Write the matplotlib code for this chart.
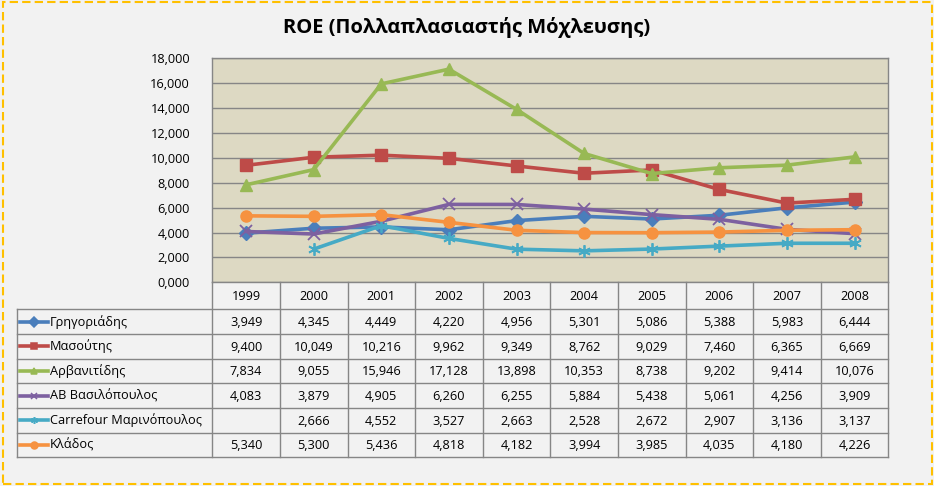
import matplotlib.pyplot as plt
import numpy as np
from matplotlib.patches import Rectangle

plt.rcParams['font.family'] = ['Open Sans', 'DejaVu Sans']

years = ['1999', '2000', '2001', '2002', '2003', '2004', '2005', '2006', '2007', '2008']
names = ['Γρηγοριάδης', 'Μασούτης', 'Αρβανιτίδης', 'ΑΒ Βασιλόπουλος',
         'Carrefour Μαρινόπουλος', 'Κλάδος']
grigoriadis = [3.949, 4.345, 4.449, 4.220, 4.956, 5.301, 5.086, 5.388, 5.983, 6.444]
masoutis = [9.400, 10.049, 10.216, 9.962, 9.349, 8.762, 9.029, 7.460, 6.365, 6.669]
arvanitidis = [7.834, 9.055, 15.946, 17.128, 13.898, 10.353, 8.738, 9.202, 9.414, 10.076]
ab_vasilopoulos = [4.083, 3.879, 4.905, 6.260, 6.255, 5.884, 5.438, 5.061, 4.256, 3.909]
carrefour = [np.nan, 2.666, 4.552, 3.527, 2.663, 2.528, 2.672, 2.907, 3.136, 3.137]
klados = [5.340, 5.300, 5.436, 4.818, 4.182, 3.994, 3.985, 4.035, 4.180, 4.226]
all_series = [grigoriadis, masoutis, arvanitidis, ab_vasilopoulos, carrefour, klados]

colours = ['#4A7EBB', '#BE4B48', '#98B954', '#7D60A0', '#46AAC5', '#F69240']
markers = ['D', 's', '^', 'x', (6, 2, 0), 'o']
msizes = [7, 8, 8, 8, 9, 8]
fs = 9.2

W, H = 934, 486
fig = plt.figure(figsize=(W / 100, H / 100), dpi=100, facecolor='#F2F2F2')


def fx(px):
    return px / W


def fy(py):
    return 1 - py / H


left, right, top, bottom = 212.3, 888.3, 58.3, 282.3
ax = fig.add_axes([fx(left), fy(bottom), fx(right - left), (bottom - top) / H])
ax.set_facecolor('#DDD9C3')
x = np.arange(len(years))
for vals, col, mk, ms in zip(all_series, colours, markers, msizes):
    mew = 1.3 if mk in ('x',) or isinstance(mk, tuple) else 1
    ax.plot(x, vals, color=col, lw=2.6, marker=mk, markersize=ms,
            markeredgewidth=mew, markeredgecolor=col, solid_capstyle='round')
ax.set_xlim(-0.5, 9.5)
ax.set_ylim(0, 18)
ax.set_yticks(np.arange(0, 19, 2))
ax.set_yticklabels(['%d,000' % v for v in range(0, 19, 2)], fontsize=fs)
ax.set_xticks([])
ax.tick_params(axis='y', length=0, pad=16)
ax.grid(axis='y', color='#868686', lw=1)
ax.set_axisbelow(True)
for s in ax.spines.values():
    s.set_color('#868686')
    s.set_linewidth(1)

# data table below the plot
tbottom = 457.3
tax = fig.add_axes([fx(left), fy(tbottom), fx(right - left), (tbottom - bottom) / H])
tax.set_xlim(-0.5, 9.5)
tax.set_ylim(tbottom, bottom)
tax.axis('off')
colw = (right - left) / 10
legend_left = -0.5 - (left - 17.3) / colw
header_h = 27
row_h = (tbottom - bottom - header_h) / 6
row_edges = [bottom + header_h + row_h * i for i in range(7)]
lc = '#868686'
for y in row_edges:
    tax.plot([legend_left, 9.5], [y, y], color=lc, lw=1, clip_on=False)
for k in range(11):
    tax.plot([k - 0.5, k - 0.5], [bottom, tbottom], color=lc, lw=1, clip_on=False)
tax.plot([legend_left, legend_left], [row_edges[0], tbottom], color=lc, lw=1, clip_on=False)

for i, yr in enumerate(years):
    tax.text(i, bottom + header_h / 2 + 1, yr, ha='center', va='center', fontsize=fs)
for r, (name, vals, col, mk) in enumerate(zip(names, all_series, colours, markers)):
    yc = row_edges[r] + row_h / 2
    x0 = -0.5 - (left - 20) / colw
    x1 = -0.5 - (left - 48) / colw
    tax.plot([x0, x1], [yc, yc], color=col, lw=2.6, clip_on=False)
    tax.plot([(x0 + x1) / 2], [yc], color=col, marker=mk, markersize=5,
             markeredgecolor=col, markeredgewidth=1.1, clip_on=False)
    tax.text(-0.5 - (left - 50) / colw, yc, name, ha='left', va='center', fontsize=fs,
             clip_on=False)
    for i, v in enumerate(vals):
        if np.isnan(v):
            continue
        tax.text(i, yc + 1, ('%.3f' % v).replace('.', ','), ha='center', va='center',
                 fontsize=fs)

fig.text(0.5, fy(28), 'ROE (Πολλαπλασιαστής Μόχλευσης)', ha='center', va='center',
         fontsize=14.5, fontweight='bold')

fig.patches.append(Rectangle((fx(2.5), fy(483.5)), fx(929.5), 481 / H,
                             transform=fig.transFigure, fill=False,
                             edgecolor='#FFC000', lw=1.5, linestyle=(0, (4, 2))))

fig.savefig('out.png', dpi=100, facecolor=fig.get_facecolor())
